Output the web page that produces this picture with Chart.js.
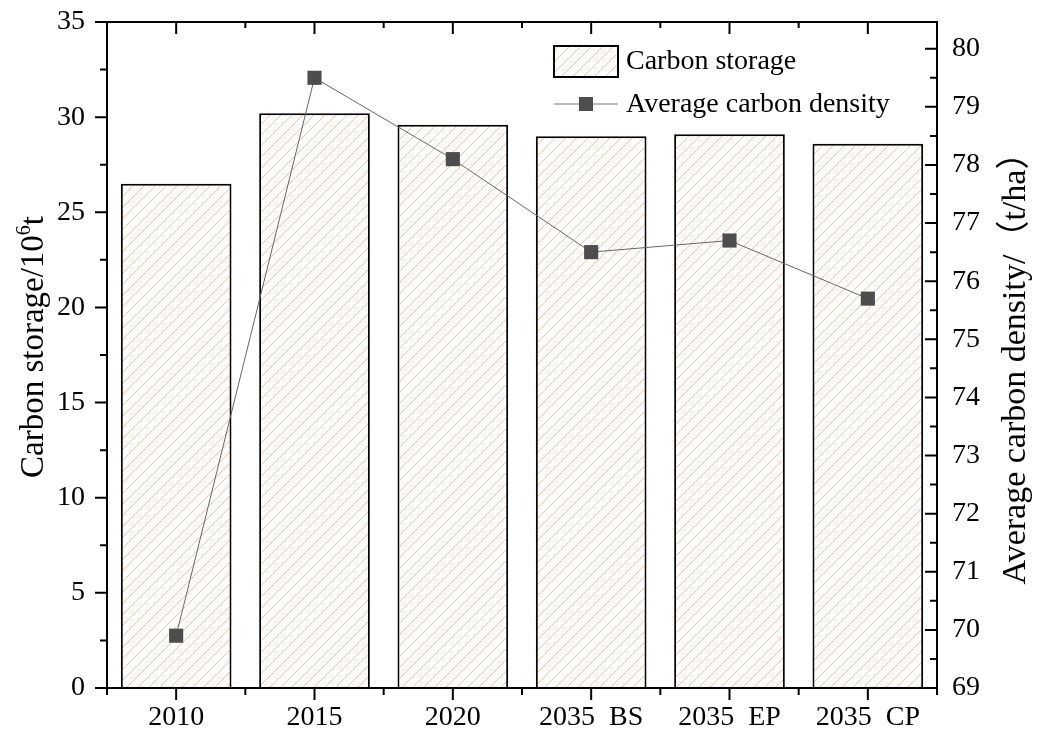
<!DOCTYPE html>
<html>
<head>
<meta charset="utf-8">
<script src="https://cdn.jsdelivr.net/npm/chart.js@4.4.0/dist/chart.umd.min.js"></script>
<style>
  html, body { margin: 0; padding: 0; background: #fff; }
  #wrap { width: 1038px; height: 735px; }
</style>
</head>
<body>
<div id="wrap"><canvas id="chart"></canvas></div>
<script>
/* carbon storage vs. average carbon density */

// ── DATA ──────────────────────────────────────────────────────────────────────
const categories    = ['2010', '2015', '2020', '2035  BS', '2035  EP', '2035  CP'];
const carbonStorage = [26.5, 30.2, 29.6, 29.0, 29.1, 28.6];   // 10^6 t
const avgDensity    = [69.9, 79.5, 78.1, 76.5, 76.7, 75.7];   // t/ha
const leftMinor     = [2.5, 7.5, 12.5, 17.5, 22.5, 27.5, 32.5];
const rightMinor    = [69.5, 70.5, 71.5, 72.5, 73.5, 74.5, 75.5, 76.5, 77.5, 78.5, 79.5];

const SERIF = "'Liberation Serif', 'Times New Roman', 'Noto Sans CJK SC', serif";
const HATCH = '#f9c39a';
const MARK  = '#4d4d4d';

// ── HATCH PATTERN ─────────────────────────────────────────────────────────────
function makeHatch() {
  const s = 11;
  const c = document.createElement('canvas');
  c.width = s; c.height = s;
  const g = c.getContext('2d');
  g.fillStyle = '#fff';
  g.fillRect(0, 0, s, s);
  g.strokeStyle = HATCH;
  g.lineWidth   = 1;
  g.beginPath();
  [-1, 0, 1].forEach(k => { g.moveTo(k * s, s); g.lineTo(k * s + s, 0); });
  g.stroke();
  return g.createPattern(c, 'repeat');
}
const hatch = makeHatch();

// ── FRAME + TICKS (mirrored top / inward right like the original) ────────────
const axisDecor = {
  id: 'axisDecor',
  afterDraw(chart) {
    const { ctx, chartArea: a } = chart;
    const { x, y, y1 } = chart.scales;
    const seg = (x0, y0, x1, y1_) => { ctx.moveTo(x0, y0); ctx.lineTo(x1, y1_); };
    ctx.save();
    ctx.strokeStyle = '#000';
    ctx.lineWidth   = 2;
    ctx.strokeRect(a.left, a.top, a.right - a.left, a.bottom - a.top);
    ctx.beginPath();
    y.ticks.forEach(t => { const p = y.getPixelForValue(t.value); seg(a.left, p, a.left - 12, p); });
    leftMinor.forEach(v => { const p = y.getPixelForValue(v); seg(a.left, p, a.left - 7, p); });
    y1.ticks.forEach(t => { const p = y1.getPixelForValue(t.value); seg(a.right, p, a.right - 12, p); });
    rightMinor.forEach(v => { const p = y1.getPixelForValue(v); seg(a.right, p, a.right - 7, p); });
    categories.forEach((_, i) => {
      const p = x.getPixelForValue(i);
      seg(p, a.bottom, p, a.bottom + 12);
      seg(p, a.top, p, a.top + 12);
    });
    for (let i = 0; i <= categories.length; i++) {
      const p = x.getPixelForValue(i - 0.5);
      seg(p, a.bottom, p, a.bottom + 7);
      seg(p, a.top, p, a.top + 6);
    }
    ctx.stroke();
    ctx.restore();
  }
};

// ── AXIS TITLES (both read bottom-to-top) ────────────────────────────────────
const axisTitles = {
  id: 'axisTitles',
  afterDraw(chart) {
    const ctx = chart.ctx;
    ctx.save();
    ctx.fillStyle    = '#000';
    ctx.textBaseline = 'alphabetic';

    // left: Carbon storage/10^6 t
    ctx.save();
    ctx.translate(43, 347);
    ctx.rotate(-Math.PI / 2);
    const big = '33px ' + SERIF, sup = '20px ' + SERIF;
    ctx.font = big;
    const w1 = ctx.measureText('Carbon storage/10').width;
    const w3 = ctx.measureText('t').width;
    ctx.font = sup;
    const w2 = ctx.measureText('6').width;
    let cx = -(w1 + w2 + w3) / 2;
    ctx.font = big; ctx.textAlign = 'left';
    ctx.fillText('Carbon storage/10', cx, 0); cx += w1;
    ctx.font = sup;
    ctx.fillText('6', cx, -13); cx += w2;
    ctx.font = big;
    ctx.fillText('t', cx, 0);
    ctx.restore();

    // right: Average carbon density/（t/ha）
    ctx.save();
    ctx.translate(1025, 360);
    ctx.rotate(-Math.PI / 2);
    ctx.font      = '34px ' + SERIF;
    ctx.textAlign = 'center';
    ctx.fillText('Average carbon density/（t/ha）', 0, 0);
    ctx.restore();

    ctx.restore();
  }
};

// ── LEGEND ────────────────────────────────────────────────────────────────────
const legendBox = {
  id: 'legendBox',
  afterDraw(chart) {
    const ctx = chart.ctx;
    ctx.save();
    // bar entry
    ctx.fillStyle = hatch;
    ctx.fillRect(554, 46, 64, 31);
    ctx.strokeStyle = '#000';
    ctx.lineWidth   = 2;
    ctx.strokeRect(554, 46, 64, 31);
    // line entry
    ctx.strokeStyle = '#777';
    ctx.lineWidth   = 1;
    ctx.beginPath();
    ctx.moveTo(554, 104); ctx.lineTo(618, 104);
    ctx.stroke();
    ctx.fillStyle = MARK;
    ctx.fillRect(579, 97, 14, 14);
    // texts
    ctx.fillStyle    = '#000';
    ctx.font         = '28px ' + SERIF;
    ctx.textAlign    = 'left';
    ctx.textBaseline = 'middle';
    ctx.fillText('Carbon storage', 626, 62);
    ctx.fillText('Average carbon density', 626, 105);
    ctx.restore();
  }
};

// vertical axes: fixed width, no extra label overhang padding
const fixVertical = w => s => { s.width = w; s.paddingTop = 0; s.paddingBottom = 0; };

// ── CHART ─────────────────────────────────────────────────────────────────────
const tickFont = { family: SERIF, size: 28 };

new Chart(document.getElementById('chart'), {
  type: 'bar',
  data: {
    labels: categories,
    datasets: [
      {
        type:            'line',
        label:           'Average carbon density',
        data:            avgDensity,
        yAxisID:         'y1',
        borderColor:     '#666',
        borderWidth:     1,
        pointStyle:      'rect',
        pointRadius:     10,
        pointBorderWidth: 0,
        pointBackgroundColor: MARK,
        pointBorderColor: MARK,
        tension:         0,
        fill:            false,
        order:           0
      },
      {
        type:            'bar',
        label:           'Carbon storage',
        data:            carbonStorage,
        yAxisID:         'y',
        backgroundColor: hatch,
        borderColor:     '#000',
        borderWidth:     2,
        categoryPercentage: 1,
        barPercentage:   0.8,
        order:           1
      }
    ]
  },
  options: {
    responsive:          true,
    maintainAspectRatio: false,
    animation:           false,
    layout: { padding: { top: 22, left: 0, right: 0, bottom: 0 } },
    plugins: {
      legend:  { display: false },
      tooltip: { enabled: false }
    },
    scales: {
      x: {
        offset: true,
        grid:   { display: false, drawTicks: false },
        border: { display: false },
        ticks:  { color: '#000', font: tickFont, padding: 13, maxRotation: 0, autoSkip: false },
        afterFit: s => { s.height = 47; s.paddingLeft = 0; s.paddingRight = 0; }
      },
      y: {
        position: 'left',
        min: 0, max: 35,
        grid:   { display: false, drawTicks: false },
        border: { display: false },
        ticks:  { stepSize: 5, color: '#000', font: tickFont, padding: 22 },
        afterFit: fixVertical(107)
      },
      y1: {
        position: 'right',
        min: 69, max: 80.46,
        grid:   { display: false, drawTicks: false },
        border: { display: false },
        ticks:  { stepSize: 1, includeBounds: false, color: '#000', font: tickFont, padding: 15 },
        afterBuildTicks: s => { s.ticks = s.ticks.filter(t => Number.isInteger(t.value)); },
        afterFit: fixVertical(101)
      }
    }
  },
  plugins: [axisDecor, axisTitles, legendBox]
});
</script>
</body>
</html>
